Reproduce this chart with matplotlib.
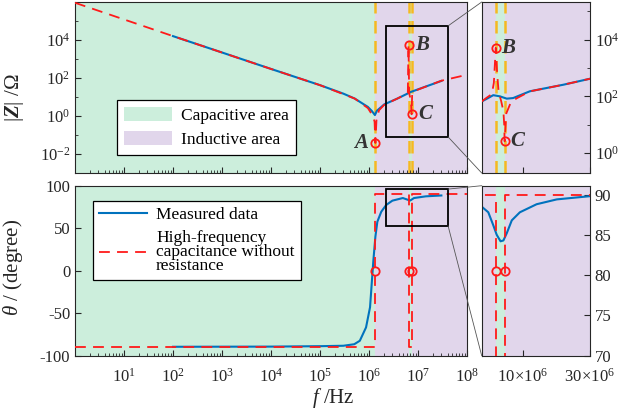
import numpy as np
import matplotlib
matplotlib.use("Agg")
import matplotlib.pyplot as plt
from matplotlib.patches import Patch, Rectangle, ConnectionPatch
from matplotlib.lines import Line2D
from matplotlib.ticker import FixedLocator, NullLocator, NullFormatter, FuncFormatter

plt.rcParams['font.family'] = ['Liberation Serif', 'DejaVu Serif']
plt.rcParams['mathtext.fontset'] = 'custom'
plt.rcParams['mathtext.rm'] = 'Liberation Serif'
plt.rcParams['mathtext.it'] = 'Liberation Serif:italic'
plt.rcParams['mathtext.bf'] = 'Liberation Serif:bold:italic'
plt.rcParams['axes.unicode_minus'] = False

# --- resonance points (Hz) ---
f_A = 1.35e6
f_B = 6.4e6
f_C = 7.4e6

# --- impedance magnitude, full band ---
f_z_meas = [1e2, 1e3, 1e4, 1e5, 3e5, 5.1e5, 9.5e5, 1.15e6, 1.32e6, 1.45e6,
            2.05e6, 3.8e6, 7.2e6, 1.55e7, 3e7]
z_meas = [1.6e4, 2.2e3, 3.0e2, 42, 15, 8.3, 3.0, 1.8, 1.12, 1.9,
          4.1, 8.3, 18.6, 38, 70]

f_z_fit = [1, 1e2, 1e4, 1e5, 5.1e5, 9.5e5, 1.2e6, 1.3e6, f_A, 1.42e6, 1.6e6,
           2.05e6, 3.8e6, 6.2e6, f_B, 6.6e6, 7.2e6, f_C, 7.6e6, 9e6, 1.55e7, 3e7, 1e8]
z_fit = [9.1e5, 1.6e4, 3.0e2, 42, 8.3, 2.6, 1.0, 0.5, 0.038, 0.6, 2.0,
         3.9, 8.3, 16, 5.5e3, 16, 6, 1.23, 14, 22, 38, 72, 148]

# --- impedance magnitude, zoomed band ---
zoom_f_meas = [5.08e6, 5.6e6, 6.14e6, 6.85e6, 7.66e6, 8.5e6, 1.12e7, 1.94e7, 3e7]
zoom_z_meas = [66, 85, 110, 100, 83, 87, 151, 257, 417]

zoom_f_fit = [5.08e6, 5.5e6, 6.0e6, 6.2e6, f_B, 6.55e6, 6.7e6, 7.0e6, 7.25e6, 7.35e6,
              f_C, 7.6e6, 8.2e6, 9e6, 1.12e7, 1.94e7, 3e7]
zoom_z_fit = [66, 89, 120, 300, 5100, 600, 150, 66, 30, 10,
              2.6, 25, 62, 85, 150, 257, 417]

# --- phase, full band ---
f_ph_meas = [1e2, 1e4, 1e5, 3e5, 5e5, 6.5e5, 8.7e5, 1.05e6, 1.15e6, 1.23e6, 1.35e6,
             1.48e6, 1.78e6, 2.24e6, 3e6, 4.9e6, 6.9e6, 8.3e6, 1.45e7, 3e7]
theta_meas = [-89.5, -89.3, -88.8, -88.3, -86.5, -82.4, -66.7, -43, -11, 12.5, 40,
              57.6, 69.4, 77.3, 82.4, 85.5, 82.5, 85.5, 87.5, 88.5]

f_ph_fit = [1, f_A, f_A, f_B, f_B, f_C, f_C, 1e8]
theta_fit = [-90, -90, 90, 90, -90, -90, 90, 90]

# --- phase, zoomed band ---
zoom_f_ph = [5.08e6, 5.66e6, 6.14e6, 6.5e6, 6.92e6, 7.25e6, 7.66e6, 8.32e6,
             9.5e6, 1.25e7, 1.74e7, 3e7]
zoom_theta = [88.5, 87.8, 86.2, 85.0, 84.2, 84.3, 85.2, 86.8,
              87.8, 88.8, 89.4, 89.8]

C_GREEN = '#CCEEDC'
C_PURPLE = '#E1D6EB'
C_BLUE = '#0072BD'
C_RED = '#FF1A1A'
C_ORANGE = '#F5B921'
C_AX = '#262626'

TICK_FS = 12


def shade(ax, x0, x1):
    # capacitive / inductive regions
    ax.axvspan(x0, f_A, color=C_GREEN, lw=0, zorder=0)
    ax.axvspan(f_A, f_B, color=C_PURPLE, lw=0, zorder=0)
    ax.axvspan(f_B, f_C, color=C_GREEN, lw=0, zorder=0)
    ax.axvspan(f_C, x1, color=C_PURPLE, lw=0, zorder=0)


def style(ax):
    for s in ax.spines.values():
        s.set_color(C_AX)
        s.set_linewidth(0.8)
    ax.tick_params(which='both', direction='in', colors=C_AX, labelsize=TICK_FS)
    ax.tick_params(which='major', length=4)
    ax.tick_params(which='minor', length=2)


def pow10(v, pos):
    return r'$\mathdefault{10^{%d}}$' % int(round(np.log10(v)))


fig = plt.figure(figsize=(6.32, 4.17), dpi=100)
W, H = 632.0, 417.0
ax_z = fig.add_axes([75 / W, 1 - 173 / H, 392 / W, 171 / H])
ax_p = fig.add_axes([75 / W, 1 - 355.7 / H, 392 / W, 170 / H])
ax_zi = fig.add_axes([481.7 / W, 1 - 173 / H, 108.3 / W, 171 / H])
ax_pi = fig.add_axes([481.7 / W, 1 - 355.7 / H, 108.3 / W, 170 / H])

# ---------- main |Z| ----------
ax = ax_z
shade(ax, 1, 1e8)
for fx in (f_A, f_B, f_C):
    ax.axvline(fx, color=C_ORANGE, ls=(0, (5, 3)), lw=1.8, zorder=1)
ax.plot(f_z_meas, z_meas, color=C_BLUE, lw=1.5, zorder=2)
ax.plot(f_z_fit, z_fit, color=C_RED, lw=1.3, ls=(0, (6, 4)), zorder=3)
ax.plot([f_A, f_B, f_C], [0.038, 5.5e3, 1.23], 'o', mfc='none', mec=C_RED,
        ms=6, mew=1.3, zorder=4)
ax.set_xscale('log')
ax.set_yscale('log')
ax.set_xlim(1, 1e8)
ax.set_ylim(1e-3, 1e6)
ax.xaxis.set_major_locator(FixedLocator([10.0 ** k for k in range(1, 9)]))
ax.xaxis.set_minor_locator(FixedLocator([m * 10.0 ** k for k in range(0, 8) for m in range(2, 10)]))
ax.xaxis.set_major_formatter(NullFormatter())
ax.xaxis.set_minor_formatter(NullFormatter())
ax.yaxis.set_major_locator(FixedLocator([1e-2, 1, 1e2, 1e4]))
ax.yaxis.set_minor_locator(FixedLocator([1e-3, 1e-1, 10, 1e3, 1e5]))
ax.yaxis.set_major_formatter(FuncFormatter(pow10))
ax.yaxis.set_minor_formatter(NullFormatter())
style(ax)
ax.set_ylabel(r'$|\mathbf{Z}|$ /$\Omega$', fontsize=15, color=C_AX)
ax.yaxis.set_label_coords(-0.125, 0.44)
for lbl, fx, zy, dx in (('A', f_A, 0.038, -5), ('B', f_B, 5.5e3, 5), ('C', f_C, 1.23, 5)):
    ax.annotate(lbl, (fx, zy), xytext=(dx, 0), textcoords='offset points',
                ha='right' if dx < 0 else 'left', va='center', fontsize=15,
                fontweight='bold', fontstyle='italic', color='#333333', zorder=5)
ax.add_patch(Rectangle((2.24e6, 0.08), 4.1e7 - 2.24e6, 5.5e4 - 0.08, fill=False,
                       ec='black', lw=1.3, zorder=5))
leg = ax.legend([Patch(facecolor=C_GREEN, edgecolor='none'),
                 Patch(facecolor=C_PURPLE, edgecolor='none')],
                ['Capacitive area', 'Inductive area'],
                loc='upper left', bbox_to_anchor=(0.107, 0.427), borderaxespad=0,
                fontsize=12.5, fancybox=False, framealpha=1, edgecolor='black',
                handlelength=2.8, handleheight=0.9, labelspacing=0.4,
                handletextpad=0.5, borderpad=0.4)
leg.get_frame().set_linewidth(0.9)

# ---------- main phase ----------
ax = ax_p
shade(ax, 1, 1e8)
ax.plot(f_ph_meas, theta_meas, color=C_BLUE, lw=1.5, zorder=2)
ax.plot(f_ph_fit, theta_fit, color=C_RED, lw=1.3, ls=(0, (6, 4)), zorder=3)
ax.plot([f_A, f_B, f_C], [0, 0, 0], 'o', mfc='none', mec=C_RED, ms=6, mew=1.3, zorder=4)
ax.set_xscale('log')
ax.set_xlim(1, 1e8)
ax.set_ylim(-100, 100)
ax.xaxis.set_major_locator(FixedLocator([10.0 ** k for k in range(1, 9)]))
ax.xaxis.set_minor_locator(FixedLocator([m * 10.0 ** k for k in range(0, 8) for m in range(2, 10)]))
ax.xaxis.set_major_formatter(FuncFormatter(pow10))
ax.xaxis.set_minor_formatter(NullFormatter())
ax.set_yticks([-100, -50, 0, 50, 100])
style(ax)
ax.tick_params(axis='x', pad=9)
ax.set_ylabel(r'$\theta$ / (degree)', fontsize=15, color=C_AX)
ax.yaxis.set_label_coords(-0.128, 0.52)
ax.add_patch(Rectangle((2.24e6, 53), 4.1e7 - 2.24e6, 43, fill=False,
                       ec='black', lw=1.3, zorder=5, clip_on=False))
leg = ax.legend([Line2D([], [], color=C_BLUE, lw=1.5),
                 Line2D([], [], color=C_RED, lw=1.3, ls=(0, (6, 4)))],
                ['Measured data', 'High-frequency\ncapacitance without\nresistance'],
                loc='upper left', bbox_to_anchor=(0.045, 0.912), borderaxespad=0,
                fontsize=12.5, fancybox=False, framealpha=1, edgecolor='black',
                handlelength=2.8, labelspacing=0.4, handletextpad=0.5, borderpad=0.35)
leg.get_frame().set_linewidth(0.9)
for t in leg.get_texts():
    t.set_linespacing(0.85)

# ---------- zoomed |Z| ----------
ax = ax_zi
shade(ax, 5.08e6, 3e7)
for fx in (f_B, f_C):
    ax.axvline(fx, color=C_ORANGE, ls=(0, (5, 3)), lw=1.8, zorder=1)
ax.plot(zoom_f_meas, zoom_z_meas, color=C_BLUE, lw=1.5, zorder=2)
ax.plot(zoom_f_fit, zoom_z_fit, color=C_RED, lw=1.3, ls=(0, (6, 4)), zorder=3)
ax.plot([f_B, f_C], [5100, 2.6], 'o', mfc='none', mec=C_RED, ms=6, mew=1.3, zorder=4)
for lbl, fx, zy in (('B', f_B, 5100), ('C', f_C, 2.6)):
    ax.annotate(lbl, (fx, zy), xytext=(4, 0), textcoords='offset points',
                ha='left', va='center', fontsize=15, fontweight='bold',
                fontstyle='italic', color='#333333', zorder=5)
ax.set_xscale('log')
ax.set_yscale('log')
ax.set_xlim(5.08e6, 3e7)
ax.set_ylim(0.2, 2.1e5)
ax.xaxis.set_major_locator(FixedLocator([1e7, 3e7]))
ax.xaxis.set_minor_locator(NullLocator())
ax.xaxis.set_major_formatter(NullFormatter())
ax.yaxis.set_major_locator(FixedLocator([1, 1e2, 1e4]))
ax.yaxis.set_minor_locator(FixedLocator([10, 1e3, 1e5]))
ax.yaxis.set_major_formatter(FuncFormatter(pow10))
ax.yaxis.set_minor_formatter(NullFormatter())
ax.yaxis.tick_right()
style(ax)

# ---------- zoomed phase ----------
ax = ax_pi
shade(ax, 5.08e6, 3e7)
ax.plot(zoom_f_ph, zoom_theta, color=C_BLUE, lw=1.5, zorder=2)
ax.plot(f_ph_fit, theta_fit, color=C_RED, lw=1.3, ls=(0, (6, 4)), zorder=3)
ax.plot([f_B, f_C], [80.5, 80.5], 'o', mfc='none', mec=C_RED, ms=6, mew=1.3, zorder=4)
ax.set_xscale('log')
ax.set_xlim(5.08e6, 3e7)
ax.set_ylim(70, 91.1)
ax.xaxis.set_major_locator(FixedLocator([1e7, 3e7]))
ax.xaxis.set_minor_locator(NullLocator())
ax.xaxis.set_major_formatter(FuncFormatter(
    lambda v, p: r'$\mathdefault{%d\!\times\!10^{6}}$' % int(round(v / 1e6))))
ax.set_yticks([70, 75, 80, 85, 90])
ax.yaxis.tick_right()
style(ax)
ax.tick_params(axis='x', pad=9)

# zoom connectors
for a_main, a_in, y_top, y_bot in ((ax_z, ax_zi, 5.5e4, 0.08), (ax_p, ax_pi, 96, 53)):
    for ym, yi in ((y_top, 1), (y_bot, 0)):
        con = ConnectionPatch(xyA=(4.1e7, ym), coordsA=a_main.transData,
                              xyB=(0, yi), coordsB=a_in.transAxes,
                              color='#555555', lw=0.6)
        fig.add_artist(con)

fig.text(333 / W, 1 - 398 / H, r'$f$ /Hz', ha='center', va='center',
         fontsize=15, color=C_AX)

fig.savefig('out.png', dpi=100)
